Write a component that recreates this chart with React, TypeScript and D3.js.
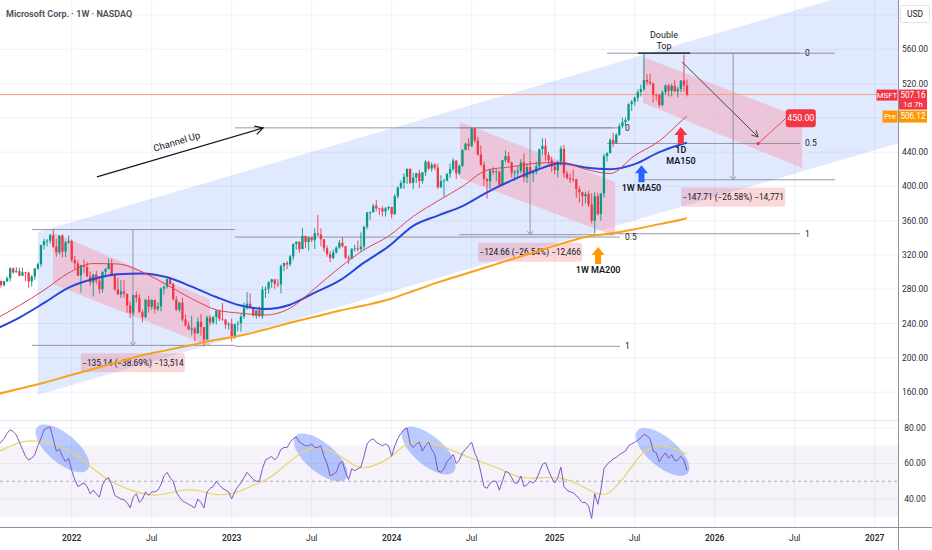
import * as d3 from "d3";

// ---- layout ----
const W = 932;
const H = 550;
const AXIS_X = 898;
const PANE_BOTTOM = 420;
const TIME_AXIS_Y = 527;
const FONT = "Roboto, 'Noto Sans', sans-serif";

const UP = "#089981";
const DOWN = "#f23645";

// ---- data: MSFT weekly bars, first bar = week of 2021-07-12 ----
const FIRST_WEEK = "2021-07-12";
const firstOpen = 277.3;

const closes = [
  // 2021
  280.75, 289.67, 284.91, 289.46, 292.85, 304.36, 299.72, 301.14, 295.71, 299.87,
  299.35, 289.1, 294.85, 304.21, 309.16, 331.62, 336.06, 336.72, 343.11, 329.68,
  323.01, 342.54, 323.8, 334.69, 336.32,
  // 2022
  314.04, 310.2, 296.03, 308.26, 305.94, 295.04, 287.93, 297.26, 289.86, 280.07,
  300.43, 303.68, 309.42, 296.97, 279.83, 274.03, 277.52, 274.73, 261.12, 252.56,
  273.24, 270.02, 252.99, 247.65, 267.7, 259.58, 267.66, 256.72, 260.36, 280.74,
  282.91, 291.91, 286.15, 268.09, 256.06, 264.46, 244.74, 237.92, 232.9, 234.24,
  228.56, 242.12, 235.87, 221.39, 247.11, 241.22, 247.49, 255.02, 245.42, 244.69,
  238.73, 239.82,
  // 2023
  224.93, 239.23, 240.22, 248.16, 258.35, 263.1, 258.06, 249.22, 255.29, 248.59,
  279.43, 280.57, 288.3, 291.6, 286.14, 285.76, 307.26, 310.65, 308.97, 318.34,
  332.89, 335.4, 326.79, 342.33, 335.02, 340.54, 337.22, 345.24, 343.77, 338.37,
  327.78, 321.01, 316.48, 322.98, 328.66, 334.27, 330.22, 317.01, 315.75, 327.26,
  327.73, 326.67, 329.81, 352.8, 369.67, 369.85, 377.43, 374.51, 374.23, 370.73,
  374.58, 376.04,
  // 2024
  367.75, 388.47, 398.67, 403.93, 411.22, 420.55, 404.06, 410.34, 415.5, 406.22,
  416.42, 428.74, 420.72, 425.52, 421.9, 399.12, 406.32, 406.66, 414.74, 420.21,
  430.16, 415.13, 423.85, 442.57, 449.78, 446.95, 467.56, 453.55, 437.11, 425.27,
  408.49, 406.02, 418.47, 416.79, 417.14, 401.7, 430.59, 435.27, 428.02, 416.06,
  416.32, 418.16, 428.15, 410.37, 422.54, 415.0, 417.0, 423.46, 443.57, 447.27,
  436.6, 430.53, 423.35,
  // 2025
  418.95, 429.03, 444.06, 415.06, 409.75, 408.43, 408.21, 396.99, 393.31, 388.56,
  391.26, 378.8, 359.84, 388.45, 367.78, 391.85, 435.28, 438.73, 454.27, 450.18,
  460.36, 470.38, 474.96, 477.4, 495.94, 498.84, 503.32, 510.05, 513.71, 524.11,
  522.04, 520.17, 507.23, 506.69, 495.0, 509.9, 517.93, 511.46, 517.35, 510.96,
  513.58, 523.61, 517.81, 507.16,
];

const highs = [
  284.1, 289.99, 290.15, 289.6, 294.8, 305.8, 305.3, 305.8, 305.3, 305.3,
  300.0, 300.5, 296.6, 304.5, 311.1, 332.0, 338.8, 338.7, 345.1, 349.67,
  339.0, 343.2, 344.3, 336.4, 343.0,
  338.0, 318.8, 313.7, 308.5, 315.1, 311.9, 300.8, 297.8, 301.5, 295.5,
  300.7, 305.0, 315.95, 315.1, 297.0, 293.3, 290.9, 290.9, 274.8, 266.0,
  273.3, 277.7, 274.7, 256.0, 269.0, 271.9, 268.0, 263.7, 264.9, 282.0,
  284.5, 292.4, 294.2, 288.0, 272.0, 265.0, 270.0, 250.7, 242.2, 249.0,
  236.0, 247.0, 251.0, 235.9, 249.0, 250.0, 249.0, 256.0, 256.0, 263.9,
  245.0, 241.5,
  245.8, 239.9, 243.0, 251.0, 264.7, 276.8, 275.0, 259.0, 255.5, 260.1,
  283.3, 283.3, 289.3, 292.1, 291.8, 291.8, 308.9, 311.0, 313.0, 320.0,
  333.4, 335.9, 336.0, 351.47, 342.1, 341.4, 341.0, 351.0, 366.78, 351.0,
  338.5, 331.0, 324.4, 326.5, 330.0, 337.4, 340.9, 330.3, 319.5, 327.8,
  332.0, 336.9, 346.2, 354.0, 370.0, 371.0, 379.8, 384.3, 375.0, 376.7,
  376.0, 377.0,
  376.1, 390.7, 400.0, 407.0, 415.3, 420.8, 420.7, 415.9, 416.0, 419.5,
  417.0, 430.8, 430.0, 427.9, 427.0, 426.5, 413.0, 409.0, 415.4, 427.0,
  432.9, 431.0, 426.0, 443.4, 450.94, 456.2, 468.35, 468.0, 458.0, 448.0,
  428.9, 409.6, 421.0, 422.4, 420.0, 419.0, 431.0, 441.8, 440.0, 429.0,
  419.7, 424.0, 431.9, 438.5, 426.9, 429.3, 419.7, 429.0, 444.0, 456.16,
  456.0, 440.0, 434.5,
  428.0, 430.0, 447.3, 448.4, 418.0, 415.0, 419.3, 409.0, 400.0, 394.0,
  394.0, 395.0, 392.0, 393.2, 392.0, 392.0, 438.0, 440.0, 456.2, 462.5,
  462.0, 473.4, 480.4, 480.4, 497.0, 500.8, 505.0, 513.0, 519.0, 555.45,
  531.0, 531.5, 521.0, 508.0, 508.0, 512.0, 519.3, 520.0, 520.0, 524.0,
  516.0, 524.0, 553.72, 524.9,
];

const lows = [
  276.6, 278.0, 282.0, 283.0, 288.6, 288.9, 298.0, 300.2, 295.2, 296.0,
  289.1, 281.6, 283.0, 290.9, 302.7, 306.0, 326.4, 330.0, 333.0, 328.0,
  318.0, 320.5, 317.3, 317.6, 333.0,
  311.5, 303.8, 295.4, 276.05, 299.0, 294.2, 284.0, 271.5, 286.1, 274.7,
  276.0, 294.0, 303.0, 294.9, 278.5, 273.4, 270.0, 270.0, 252.9, 246.4,
  249.6, 264.6, 252.9, 241.5, 246.0, 252.8, 255.8, 251.5, 254.5, 254.3,
  273.7, 280.8, 285.4, 267.0, 254.5, 253.0, 242.3, 236.5, 232.7, 226.0,
  219.1, 228.0, 226.0, 213.43, 221.0, 238.0, 239.0, 239.0, 243.0, 243.0,
  233.9, 233.0,
  219.35, 221.9, 230.9, 230.5, 245.5, 256.0, 257.8, 248.0, 245.6, 247.8,
  245.5, 270.0, 275.0, 281.5, 280.6, 282.6, 275.4, 301.0, 303.5, 306.9,
  313.8, 326.0, 322.5, 327.0, 327.9, 325.0, 335.0, 327.0, 342.0, 330.0,
  324.0, 318.0, 311.55, 315.0, 321.7, 327.0, 328.8, 315.0, 309.45, 315.0,
  324.0, 324.0, 324.0, 326.0, 350.0, 361.0, 370.0, 371.0, 366.5, 365.0,
  365.0, 372.0,
  362.9, 366.5, 386.0, 397.0, 397.0, 402.9, 403.0, 397.2, 404.0, 398.0,
  403.0, 412.0, 419.0, 417.0, 419.0, 397.0, 398.0, 388.0, 406.0, 410.0,
  418.0, 408.5, 413.0, 423.0, 442.0, 442.0, 446.0, 451.0, 436.0, 424.0,
  400.8, 385.58, 397.0, 413.5, 406.0, 400.0, 400.8, 428.0, 427.0, 410.4,
  406.3, 411.0, 415.0, 405.0, 404.0, 413.0, 405.0, 414.0, 420.0, 437.0,
  430.0, 426.0, 417.0,
  414.0, 410.7, 424.0, 410.0, 408.0, 404.0, 405.0, 386.5, 381.0, 376.9,
  380.0, 376.0, 357.0, 344.79, 366.0, 360.0, 387.0, 429.0, 440.0, 446.0,
  450.0, 459.0, 468.0, 470.0, 476.0, 488.0, 494.0, 499.0, 505.0, 511.0,
  518.0, 518.0, 497.5, 500.0, 492.4, 493.0, 507.0, 505.0, 505.0, 510.0,
  504.0, 510.0, 511.0, 505.0,
];

// weekly RSI(14), one value per bar
const rsi = [
  69, 70, 72, 74, 77, 79, 78, 76, 72, 68,
  64, 62, 63, 65, 70, 74, 79, 80, 80.5, 74,
  67, 68, 64, 61, 63, 56, 51, 47, 48, 49,
  47, 43, 45, 43, 41, 48, 51, 52, 48, 42,
  41, 40, 39.5, 38, 35, 41, 43, 38, 40, 44,
  42, 44, 44, 45, 48, 53, 55, 52, 50, 44,
  41, 39, 38, 37, 36, 35, 40, 38, 35, 44,
  46, 47, 50, 48, 46, 45, 44, 40, 44, 47,
  49, 52, 55, 53, 51, 50, 50, 57, 62, 63,
  64, 62, 64, 68, 69, 69, 72, 74, 75, 72,
  71, 70, 70, 71, 69, 69, 70, 64, 60, 53,
  54, 55, 60, 61, 55, 51, 57, 56, 57, 58,
  64, 71, 73, 74, 72, 71, 70, 71, 70, 64,
  70, 74, 77, 79, 80, 71, 69, 71, 72, 67,
  70, 72, 68, 65, 56, 55, 57, 61, 63, 65,
  60, 62, 66, 68, 70, 72, 66, 62, 55, 47,
  46, 49, 50, 50, 45, 50, 55.5, 55, 52, 49,
  49, 53, 47, 48, 50, 49, 51, 55, 59.5, 60.5,
  56, 52, 49, 52, 58, 47, 45, 44, 43.5, 42,
  40, 38, 38, 36, 29, 43, 37, 45, 57, 59.5,
  61, 62.5, 63.5, 65, 66, 67, 70, 71, 72, 73,
  74.5, 76.5, 75.5, 74, 67, 66, 61, 64, 66, 63,
  65, 61.5, 62, 64, 62, 56,
];

// RSI-based MA, read at a few bars
const rsiMaWeeks = [0, 2, 9, 18, 26, 31, 37, 45, 53, 60, 67, 71, 78, 84, 89, 94, 100, 105, 110, 117,
  120, 127, 131, 134, 143, 148, 154, 164, 171, 178, 185, 189, 197, 200, 205, 210, 214, 218, 222, 225];
const rsiMaValues = [66, 67, 73.7, 72.2, 66.1, 58.5, 49.9, 44.2, 40.9, 45.5, 45.1, 41.9, 42.8, 48, 50.9,
  58.5, 67, 69.9, 67, 58.5, 56.6, 61.3, 67, 72.2, 71.4, 68, 63.3, 57.5, 50.9, 52.4, 51.8, 49, 41.3,
  43.2, 52.7, 66.1, 69.9, 69.9, 68, 65.1];

// moving averages read every 8 bars
const maWeeks = [0, 8, 16, 24, 32, 40, 48, 56, 64, 72, 80, 88, 96, 104, 112, 120, 128, 136, 144, 152,
  160, 168, 176, 184, 192, 200, 208, 216, 224, 225];
const ma50w = [233, 247, 264, 282, 292, 297.5, 298.5, 294, 283, 271, 261, 257, 262, 276, 290, 311, 330,
  354, 366, 377, 393, 407, 419, 427, 422, 420, 426, 440, 450, 451];
const ma150d = [245, 261, 279, 299, 310, 309.5, 300, 285, 269, 256, 252, 250, 258, 281, 305, 326, 342,
  365, 383, 400, 419, 423, 427, 428, 420, 415, 436, 453, 479, 482];
const ma200w = [157, 164, 171, 179, 187, 195, 203, 209, 215, 221, 226, 233, 241, 248, 255, 261, 268,
  278, 288, 297, 306, 315, 324, 333, 341, 345, 350, 356, 362, 363];

const priceGrid = [160, 200, 240, 280, 320, 360, 400, 440, 480, 520, 560, 600];
// 480 and 600 sit behind the price labels / USD box, as in TradingView
const priceTickLabels = [160, 200, 240, 280, 320, 360, 400, 440, 520, 560];
const rsiTicks = [40, 60, 80];
const timeTickLabels = ["2022", "Jul", "2023", "Jul", "2024", "Jul", "2025", "Jul", "2026", "Jul", "2027"];
const timeTickDates = ["2022-01-03", "2022-07-04", "2023-01-02", "2023-07-03", "2024-01-01", "2024-07-01",
  "2025-01-06", "2025-07-07", "2026-01-05", "2026-07-06", "2027-01-04"];

const lastPrice = 507.16;
const prePrice = 506.12;

// ---- drawings (bar index, price) ----
const channelUpper = [[14, 346.8], [294, 640.9]];
const channelLower = [[14, 156.6], [294, 450.7]];
const downChannels = [
  { from: 18.9, to: 69.9, top: [346.4, 268.2], bottom: [285.9, 213.6] },
  { from: 151.2, to: 201.6, top: [475.1, 405.1], bottom: [409.8, 342.1] },
  { from: 210.7, to: 262.4, top: [551, 479.8], bottom: [497.2, 421.5] },
];
const measures = [
  { from: 12.1, to: 78.1, at: 44.9, high: 349.67, low: 214.53, label: "\u2212135.14 (\u221238.69%) \u221213,514" },
  { from: 151, to: 201, at: 174, high: 468.35, low: 343.69, label: "\u2212124.66 (\u221226.54%) \u221212,466" },
  { from: 209.7, to: 273.1, at: 240, high: 555.45, low: 407.74, label: "\u2212147.71 (\u221226.58%) \u221214,771" },
];
const fibs = [
  { from: 199, to: 261.7, p0: 555.45, p1: 344.79 },
  { from: 78.1, to: 203.2, p0: 468.35, p1: 213.43 },
];
const fibLevels = [0, 0.5, 1];
const doubleTop = { from: 209, to: 226, price: 555.45 };
const projection = { from: [223.4, 545.2], to: [248.1, 457.7], target: [248.1, 450], label: [257.1, 479.5] };
const channelArrow = { from: [33.2, 411], to: [87.2, 468.2] };
const maCallouts = [
  { week: 210.2, price: 424.7, color: "#2962ff", lines: ["1W MA50"] },
  { week: 223, price: 469.3, color: "#f23645", lines: ["1D", "MA150"] },
  { week: 196.1, price: 329.3, color: "#ff9800", lines: ["1W MA200"] },
];
const rsiCircles = [[22, 68.5], [105.9, 63.4], [141, 67.3], [217, 66.5]];

// ---- scales ----
const parse = d3.timeParse("%Y-%m-%d");
const start = parse(FIRST_WEEK)!;
const weekIndex = (s: string) => d3.timeMonday.count(start, parse(s)!);

const x = d3.scaleLinear().domain([25, 286]).range([71.7, 874.7]);
const y = d3.scaleLinear().domain([160, 560]).range([392.1, 49.3]);
const ry = d3.scaleLinear().domain([40, 80]).range([499, 428]);

function arrowHead(x1: number, y1: number, x2: number, y2: number, size = 8, spread = 0.45) {
  const a = Math.atan2(y2 - y1, x2 - x1);
  const lx = x2 - size * Math.cos(a - spread);
  const ly = y2 - size * Math.sin(a - spread);
  const rx = x2 - size * Math.cos(a + spread);
  const rY = y2 - size * Math.sin(a + spread);
  return `M${lx},${ly}L${x2},${y2}L${rx},${rY}`;
}

export default function App() {
  const bars = closes.map((c, i) => ({
    i,
    o: i === 0 ? firstOpen : closes[i - 1],
    c,
    h: highs[i],
    l: lows[i],
  }));

  const maLine = d3
    .line<number>()
    .x((_, k) => x(maWeeks[k]))
    .y((v) => y(v))
    .curve(d3.curveMonotoneX);

  const rsiLine = d3
    .line<number>()
    .x((_, k) => x(k))
    .y((v) => ry(v));

  const rsiMaLine = d3
    .line<number>()
    .x((_, k) => x(rsiMaWeeks[k]))
    .y((v) => ry(v))
    .curve(d3.curveBasis);

  const ticks = timeTickDates.map((d, k) => ({ x: x(weekIndex(d)), label: timeTickLabels[k], year: k % 2 === 0 }));

  const channelPath = `M${x(channelUpper[0][0])},${y(channelUpper[0][1])}L${x(channelUpper[1][0])},${y(
    channelUpper[1][1]
  )}L${x(channelLower[1][0])},${y(channelLower[1][1])}L${x(channelLower[0][0])},${y(channelLower[0][1])}Z`;

  const ca = {
    x1: x(channelArrow.from[0]),
    y1: y(channelArrow.from[1]),
    x2: x(channelArrow.to[0]),
    y2: y(channelArrow.to[1]),
  };
  const caAngle = (Math.atan2(ca.y2 - ca.y1, ca.x2 - ca.x1) * 180) / Math.PI;
  const caMid = [(ca.x1 + ca.x2) / 2, (ca.y1 + ca.y2) / 2];
  const nx = Math.sin((caAngle * Math.PI) / 180);
  const ny = -Math.cos((caAngle * Math.PI) / 180);

  const pj = {
    x1: x(projection.from[0]),
    y1: y(projection.from[1]),
    x2: x(projection.to[0]),
    y2: y(projection.to[1]),
    tx: x(projection.target[0]),
    ty: y(projection.target[1]),
    lx: x(projection.label[0]),
    ly: y(projection.label[1]),
  };

  const yLast = y(lastPrice);

  return (
    <div style={{ position: "fixed", left: 0, top: 0 }}>
      <svg width={W} height={H} style={{ display: "block", background: "#fff" }} fontFamily={FONT}>
        <defs>
          <clipPath id="price-clip">
            <rect x={0} y={0} width={AXIS_X} height={PANE_BOTTOM} />
          </clipPath>
          <clipPath id="rsi-clip">
            <rect x={0} y={PANE_BOTTOM} width={AXIS_X} height={TIME_AXIS_Y - PANE_BOTTOM} />
          </clipPath>
        </defs>

        {/* grid */}
        <g stroke="#f0f2f6" strokeWidth={1}>
          {ticks.map((t) => (
            <line key={t.x} x1={t.x} x2={t.x} y1={0} y2={TIME_AXIS_Y} />
          ))}
          {priceGrid.map((p) => (
            <line key={p} x1={0} x2={AXIS_X} y1={y(p)} y2={y(p)} />
          ))}
          {rsiTicks.map((v) => (
            <line key={v} x1={0} x2={AXIS_X} y1={ry(v)} y2={ry(v)} />
          ))}
        </g>

        {/* ---------- price pane ---------- */}
        <g clipPath="url(#price-clip)">
          <path d={channelPath} fill="#2962ff" fillOpacity={0.14} />
          {downChannels.map((c, k) => (
            <path
              key={k}
              d={`M${x(c.from)},${y(c.top[0])}L${x(c.to)},${y(c.top[1])}L${x(c.to)},${y(c.bottom[1])}L${x(
                c.from
              )},${y(c.bottom[0])}Z`}
              fill="#f4a9bd"
              fillOpacity={0.55}
            />
          ))}

          {/* fib levels */}
          {fibs.map((f, k) =>
            fibLevels.map((l) => {
              const p = f.p0 + (f.p1 - f.p0) * l;
              return (
                <g key={`${k}-${l}`}>
                  <line x1={x(f.from)} x2={x(f.to)} y1={y(p)} y2={y(p)} stroke="#8a8d96" strokeWidth={0.9} />
                  <text x={x(f.to) + 5} y={y(p)} dy="0.35em" fontSize={8.5} fill="#131722">
                    {l}
                  </text>
                </g>
              );
            })
          )}

          {/* price range measures */}
          {measures.map((m, k) => {
            const xa = x(m.at);
            const yb = y(m.low);
            return (
              <g key={k}>
                <line x1={x(m.from)} x2={x(m.to)} y1={y(m.high)} y2={y(m.high)} stroke="#8a8d96" strokeWidth={0.9} />
                <line x1={x(m.from)} x2={x(m.to)} y1={yb} y2={yb} stroke="#8a8d96" strokeWidth={0.9} />
                <line x1={xa} x2={xa} y1={y(m.high)} y2={yb} stroke="#8a8d96" strokeWidth={0.9} />
                <path d={arrowHead(xa, y(m.high), xa, yb, 4.5, 0.7)} fill="none" stroke="#8a8d96" strokeWidth={0.9} />
                <rect x={xa - 52} y={yb + 8} width={104} height={19} rx={2} fill="#f23645" fillOpacity={0.2} />
                <text x={xa} y={yb + 17.5} dy="0.35em" textAnchor="middle" fontSize={8.3} fill="#131722">
                  {m.label}
                </text>
              </g>
            );
          })}

          {/* current price line */}
          <line x1={0} x2={AXIS_X} y1={yLast} y2={yLast} stroke="#f5a07e" strokeWidth={1} />

          {/* candles */}
          {bars.map((b) => {
            const cx = x(b.i);
            const col = b.c >= b.o ? UP : DOWN;
            const top = y(Math.max(b.o, b.c));
            const bot = y(Math.min(b.o, b.c));
            return (
              <g key={b.i}>
                <line
                  x1={cx}
                  x2={cx}
                  y1={y(Math.max(b.h, b.o, b.c))}
                  y2={y(Math.min(b.l, b.o, b.c))}
                  stroke={col}
                  strokeWidth={0.9}
                />
                <rect x={cx - 1.15} width={2.3} y={top} height={Math.max(0.8, bot - top)} fill={col} />
              </g>
            );
          })}

          {/* moving averages */}
          <path d={maLine(ma200w) ?? ""} fill="none" stroke="#f7a21b" strokeWidth={2} />
          <path d={maLine(ma50w) ?? ""} fill="none" stroke="#2a46d8" strokeWidth={2} />
          <path d={maLine(ma150d) ?? ""} fill="none" stroke="#e0424f" strokeWidth={1} />

          {/* double top */}
          <line
            x1={x(doubleTop.from)}
            x2={x(doubleTop.to)}
            y1={y(doubleTop.price)}
            y2={y(doubleTop.price)}
            stroke="#131722"
            strokeWidth={1.3}
          />
          <text
            x={(x(doubleTop.from) + x(doubleTop.to)) / 2}
            y={y(doubleTop.price) - 18}
            dy="0.35em"
            textAnchor="middle"
            fontSize={9}
            fill="#131722"
          >
            Double
          </text>
          <text
            x={(x(doubleTop.from) + x(doubleTop.to)) / 2}
            y={y(doubleTop.price) - 7.5}
            dy="0.35em"
            textAnchor="middle"
            fontSize={9}
            fill="#131722"
          >
            Top
          </text>

          {/* projection arrow to 450 */}
          <line x1={pj.x1} y1={pj.y1} x2={pj.x2} y2={pj.y2} stroke="#434651" strokeWidth={1} />
          <path d={arrowHead(pj.x1, pj.y1, pj.x2, pj.y2, 7, 0.5)} fill="none" stroke="#434651" strokeWidth={1} />
          <line x1={pj.tx} y1={pj.ty} x2={pj.lx} y2={pj.ly} stroke="#f23645" strokeWidth={0.9} />
          <circle cx={pj.tx} cy={pj.ty} r={1.6} fill="#f23645" />
          <rect x={pj.lx} y={pj.ly - 9} width={30} height={18} rx={3} fill="#f23645" />
          <text x={pj.lx + 15} y={pj.ly} dy="0.35em" textAnchor="middle" fontSize={8.8} fill="#fff">
            450.00
          </text>

          {/* channel up arrow */}
          <line x1={ca.x1} y1={ca.y1} x2={ca.x2} y2={ca.y2} stroke="#131722" strokeWidth={1.3} />
          <path d={arrowHead(ca.x1, ca.y1, ca.x2, ca.y2, 9, 0.5)} fill="none" stroke="#131722" strokeWidth={1.3} />
          <text
            transform={`translate(${caMid[0] + nx * 8},${caMid[1] + ny * 8}) rotate(${caAngle})`}
            textAnchor="middle"
            fontSize={9.5}
            fill="#131722"
          >
            Channel Up
          </text>

          {/* MA callouts */}
          {maCallouts.map((c) => {
            const tx = x(c.week);
            const ty = y(c.price);
            return (
              <g key={c.lines.join()}>
                <path
                  d={`M${tx},${ty}L${tx + 6.5},${ty + 8}L${tx + 3},${ty + 8}L${tx + 3},${ty + 17}L${tx - 3},${
                    ty + 17
                  }L${tx - 3},${ty + 8}L${tx - 6.5},${ty + 8}Z`}
                  fill={c.color}
                />
                {c.lines.map((s, j) => (
                  <text
                    key={s}
                    x={tx}
                    y={ty + 26 + j * 10.5}
                    textAnchor="middle"
                    fontSize={9}
                    fontWeight={600}
                    fill="#131722"
                  >
                    {s}
                  </text>
                ))}
              </g>
            );
          })}
        </g>

        {/* ---------- RSI pane ---------- */}
        <g clipPath="url(#rsi-clip)">
          <rect x={0} y={ry(70)} width={AXIS_X} height={ry(30) - ry(70)} fill="#7e57c2" fillOpacity={0.08} />
          <line
            x1={0}
            x2={AXIS_X}
            y1={ry(50)}
            y2={ry(50)}
            stroke="#9f9aae"
            strokeWidth={0.8}
            strokeDasharray="3 3"
          />
          {rsiCircles.map(([w, v]) => (
            <ellipse
              key={w}
              cx={x(w)}
              cy={ry(v)}
              rx={33}
              ry={14.5}
              transform={`rotate(40 ${x(w)} ${ry(v)})`}
              fill="#2962ff"
              fillOpacity={0.33}
            />
          ))}
          <path d={rsiMaLine(rsiMaValues) ?? ""} fill="none" stroke="#ecd36a" strokeWidth={1.2} />
          <path d={rsiLine(rsi) ?? ""} fill="none" stroke="#7e57c2" strokeWidth={1} />
        </g>

        {/* pane borders & axes */}
        <line x1={0} x2={AXIS_X} y1={PANE_BOTTOM + 0.5} y2={PANE_BOTTOM + 0.5} stroke="#e0e3eb" />
        <line x1={0} x2={W} y1={TIME_AXIS_Y + 0.5} y2={TIME_AXIS_Y + 0.5} stroke="#8f929b" />
        <line x1={AXIS_X + 0.5} x2={AXIS_X + 0.5} y1={0} y2={H} stroke="#8f929b" />

        <g fontSize={8.5} fill="#2a2e39" textAnchor="middle">
          {priceTickLabels.map((p) => (
            <text key={p} x={915} y={y(p)} dy="0.35em">
              {p.toFixed(2)}
            </text>
          ))}
          {rsiTicks.map((v) => (
            <text key={v} x={915} y={ry(v)} dy="0.35em">
              {v.toFixed(2)}
            </text>
          ))}
          {ticks.map((t) => (
            <text key={t.x} x={t.x} y={538} dy="0.35em" fontWeight={t.year ? 600 : 400}>
              {t.label}
            </text>
          ))}
        </g>

        {/* price labels */}
        <rect x={876.5} y={yLast - 5} width={21} height={11} fill="#f23645" />
        <text x={887} y={yLast + 0.5} dy="0.35em" textAnchor="middle" fontSize={7.8} fill="#fff">
          MSFT
        </text>
        <rect x={899} y={yLast - 5} width={28} height={20} fill="#f23645" />
        <text x={913} y={yLast + 0.5} dy="0.35em" textAnchor="middle" fontSize={8.2} fill="#fff">
          {lastPrice.toFixed(2)}
        </text>
        <text x={913} y={yLast + 10} dy="0.35em" textAnchor="middle" fontSize={8} fill="#fff">
          1d 7h
        </text>
        <rect x={882.5} y={yLast + 16} width={15} height={12} fill="#ff9800" />
        <text x={890} y={yLast + 22} dy="0.35em" textAnchor="middle" fontSize={7.8} fill="#fff">
          Pre
        </text>
        <rect x={899} y={yLast + 16} width={28} height={12} fill="#ff9800" />
        <text x={913} y={yLast + 22} dy="0.35em" textAnchor="middle" fontSize={8.2} fill="#fff">
          {prePrice.toFixed(2)}
        </text>

        {/* USD box */}
        <rect x={900.5} y={5.5} width={29} height={17} rx={2} fill="#fff" stroke="#e0e3eb" />
        <text x={915} y={14} dy="0.35em" textAnchor="middle" fontSize={8.5} fill="#131722">
          USD
        </text>

        {/* title */}
        <text x={6} y={17} fontSize={9} fontWeight={600} fill="#4a4d56">
          Microsoft Corp. · 1W · NASDAQ
        </text>
      </svg>
    </div>
  );
}
